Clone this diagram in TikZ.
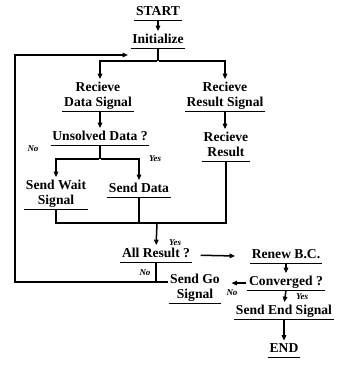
\documentclass[tikz,border=0pt]{standalone}
\usepackage{fontspec}
\setmainfont{Liberation Serif}
\usetikzlibrary{arrows.meta}
\begin{document}
\begin{tikzpicture}[x=1pt,y=-1pt,
  tx/.style={font=\bfseries\fontsize{13.6}{15}\selectfont, align=center, inner xsep=1.5pt, inner ysep=0pt, text depth=4pt, anchor=south},
  lab/.style={font=\bfseries\itshape\fontsize{9}{10}\selectfont, inner sep=0pt},
  ln/.style={line width=1.5pt},
  arr/.style={ln, -{Triangle[length=5.5pt,width=4.5pt]}, shorten <=1pt, shorten >=3pt},
  ul/.style={line width=0.9pt}]
\useasboundingbox (0,0) rectangle (339,365);
\node[tx] (start) at (158,20) {START};
\node[tx] (init) at (158,48) {Initialize};
\node[tx] (rds) at (98,111) {Recieve\\Data Signal};
\node[tx] (rrs) at (225,111) {Recieve\\Result Signal};
\node[tx] (uns) at (100,145) {Unsolved Data ?};
\node[tx] (rr) at (226,161) {Recieve\\Result};
\node[tx] (sws) at (56,209) {Send Wait\\Signal};
\node[tx] (sd) at (139,197) {Send Data};
\node[tx] (ar) at (156,262) {All Result ?};
\node[tx] (rbc) at (286,263) {Renew B.C.};
\node[tx] (conv) at (286,290) {Converged ?};
\node[tx] (sgs) at (195,303) {Send Go\\Signal};
\node[tx] (ses) at (284,319) {Send End Signal};
\node[tx] (end) at (284,357) {END};
\foreach \n in {start,init,rds,rrs,uns,rr,sws,sd,ar,rbc,conv,sgs,ses,end}
  \draw[ul] (\n.south west) -- (\n.south east);
% coordinates
\coordinate (b1) at (158,61);
\coordinate (b2) at (100,159);
\coordinate (m) at (157,223);
\coordinate (loopL) at (15,282);
\coordinate (loopR) at (168,282);
\coordinate (loopEnd) at (128,55);
% connectors
\draw[arr] (start.south) -- (init.north);
\draw[ln] (init.south) -- (b1);
\draw[arr] (b1) -| (100,75) -- (rds.north -| 100,0);
\draw[arr] (b1) -| (rrs.north);
\draw[arr] (rds.south -| 100,0) -- (uns.north);
\draw[arr] (rrs.south) -- (rrs.south |- rr.north);
\draw[ln] (uns.south) -- (b2);
\draw[arr] (b2) -| (sws.north);
\draw[arr] (b2) -| (sd.north);
\draw[ln] (sws.south) -- (sws.south |- m) -- (rr.south |- m) -- (rr.south);
\draw[ln] (sd.south) -- (sd.south |- m);
\draw[arr] (m) -- (ar.north);
\draw[arr, shorten <=9pt, shorten >=15pt] (ar.east) -- (rbc.west);
\draw[arr] (rbc.south) -- (conv.north);
\draw[arr, shorten >=10pt] (conv.west) -- (sgs.east |- conv.west);
\draw[arr] (conv.south) -- (ses.north);
\draw[arr] (ses.south) -- (end.north);
\draw[ln] (ar.south) -- (ar.south |- loopL);
\draw[arr, shorten <=0pt, shorten >=0pt] (loopR) -- (loopL) -- (loopL |- loopEnd) -- (loopEnd);
% labels
\node[lab] (no1) at (33,149) {No};
\node[lab] (yes1) at (155,159) {Yes};
\node[lab] (yes2) at (175,243) {Yes};
\node[lab] (no2) at (145,273) {No};
\node[lab] (no3) at (232,293) {No};
\node[lab] (yes3) at (302,297) {Yes};
\end{tikzpicture}
\end{document}
